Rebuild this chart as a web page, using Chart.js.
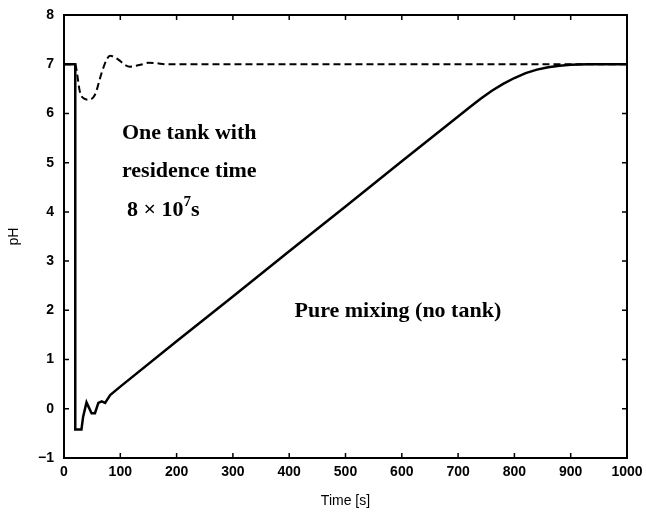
<!DOCTYPE html>
<html>
<head>
<meta charset="utf-8">
<script src="https://cdn.jsdelivr.net/npm/chart.js@4/dist/chart.umd.min.js"></script>
<style>
  body { margin: 0; background: #fff; }
  canvas { display: block; }
</style>
</head>
<body>
<canvas id="phChart" width="646" height="517"></canvas>
<script>
// pure mixing (solid)
const mixTime = [0, 20, 20, 31, 34, 40, 49, 55, 61, 67, 73, 82, 100, 200, 300, 400, 500, 600, 700, 720, 740, 760, 780, 800, 820, 840, 860, 880, 900, 930, 1000];
const mixPH   = [7, 7, -0.42, -0.42, -0.16, 0.13, -0.09, -0.09, 0.12, 0.15, 0.12, 0.28, 0.45, 1.37, 2.28, 3.2, 4.11, 5.03, 5.94, 6.12, 6.30, 6.46, 6.60, 6.72, 6.82, 6.89, 6.94, 6.97, 6.99, 7.0, 7.0];

// one tank (dashed)
const tankTime = [0, 20, 23, 28, 36, 44, 55, 67, 76, 82, 96, 108, 117, 128, 140, 150, 165, 180, 200, 1000];
const tankPH   = [7, 7, 6.83, 6.45, 6.3, 6.28, 6.38, 6.83, 7.1, 7.17, 7.1, 6.99, 6.95, 6.97, 7.0, 7.03, 7.02, 7.0, 7.0, 7.0];

const xTicks = [0, 100, 200, 300, 400, 500, 600, 700, 800, 900, 1000];
const yTicks = [-1, 0, 1, 2, 3, 4, 5, 6, 7, 8];

const toPoints = (xs, ys) => xs.map((x, i) => ({ x: x, y: ys[i] }));

const tickFont = { family: 'Liberation Sans, Arial, sans-serif', size: 14, weight: 'bold' };
const titleFont = { family: 'Liberation Sans, Arial, sans-serif', size: 14 };
const noteFont = 'bold 22px "Liberation Serif", "Times New Roman", serif';

// box + inward ticks, matlab style
const framePlugin = {
    id: 'frame',
    afterDatasetsDraw(chart) {
        const ctx = chart.ctx;
        const a = chart.chartArea;
        const xs = chart.scales.x, ys = chart.scales.y;
        ctx.save();
        ctx.strokeStyle = '#000';
        ctx.lineWidth = 2;
        ctx.strokeRect(a.left, a.top, a.right - a.left, a.bottom - a.top);
        ctx.lineWidth = 1.5;
        ctx.beginPath();
        xTicks.forEach(v => {
            const px = xs.getPixelForValue(v);
            ctx.moveTo(px, a.bottom); ctx.lineTo(px, a.bottom - 5);
            ctx.moveTo(px, a.top); ctx.lineTo(px, a.top + 5);
        });
        yTicks.forEach(v => {
            const py = ys.getPixelForValue(v);
            ctx.moveTo(a.left, py); ctx.lineTo(a.left + 5, py);
            ctx.moveTo(a.right, py); ctx.lineTo(a.right - 5, py);
        });
        ctx.stroke();

        // annotations
        ctx.fillStyle = '#000';
        ctx.font = noteFont;
        ctx.textBaseline = 'middle';
        ctx.textAlign = 'left';
        const lx = xs.getPixelForValue(103);
        ctx.fillText('One tank with', lx, ys.getPixelForValue(5.59));
        ctx.fillText('residence time', lx, ys.getPixelForValue(4.82));
        const y3 = ys.getPixelForValue(4.04);
        let cx = xs.getPixelForValue(112);
        const base = '8 \u00d7 10';
        ctx.fillText(base, cx, y3);
        cx += ctx.measureText(base).width;
        ctx.font = 'bold 15px "Liberation Serif", "Times New Roman", serif';
        ctx.fillText('7', cx, y3 - 8);
        cx += ctx.measureText('7').width;
        ctx.font = noteFont;
        ctx.fillText('s', cx, y3);

        ctx.textAlign = 'center';
        ctx.fillText('Pure mixing (no tank)', xs.getPixelForValue(593), ys.getPixelForValue(1.97));
        ctx.restore();
    }
};

new Chart(document.getElementById('phChart').getContext('2d'), {
    type: 'line',
    data: {
        datasets: [{
            label: 'Pure mixing (no tank)',
            data: toPoints(mixTime, mixPH),
            borderColor: '#000',
            borderWidth: 2.5,
            pointRadius: 0,
            tension: 0,
            fill: false
        }, {
            label: 'One tank',
            data: toPoints(tankTime, tankPH),
            borderColor: '#000',
            borderWidth: 2,
            borderDash: [7, 4],
            pointRadius: 0,
            cubicInterpolationMode: 'monotone',
            fill: false
        }]
    },
    options: {
        responsive: false,
        animation: false,
        layout: { padding: { top: 15, right: 19, left: 0, bottom: 0 } },
        plugins: { legend: { display: false }, tooltip: { enabled: false } },
        scales: {
            x: {
                type: 'linear',
                min: 0,
                max: 1000,
                afterFit: s => { s.height = 59; s.paddingLeft = 0; s.paddingRight = 0; },
                afterBuildTicks: s => { s.ticks = xTicks.map(v => ({ value: v })); },
                grid: { display: false, drawTicks: false },
                border: { display: false },
                ticks: { color: '#000', font: tickFont, padding: 6, maxRotation: 0, callback: v => String(v) },
                title: { display: true, text: 'Time [s]', color: '#000', font: titleFont, padding: { top: 8, bottom: 7 } }
            },
            y: {
                type: 'linear',
                min: -1,
                max: 8,
                afterFit: s => { s.width = 64; s.paddingTop = 0; s.paddingBottom = 0; },
                afterBuildTicks: s => { s.ticks = yTicks.map(v => ({ value: v })); },
                grid: { display: false, drawTicks: false },
                border: { display: false },
                ticks: {
                    color: '#000', font: tickFont, padding: 10,
                    callback: v => String(v).replace('-', '\u2212')
                },
                title: { display: true, text: 'pH', color: '#000', font: titleFont, padding: { top: 6, bottom: 4 } }
            }
        }
    },
    plugins: [framePlugin]
});
</script>
</body>
</html>
